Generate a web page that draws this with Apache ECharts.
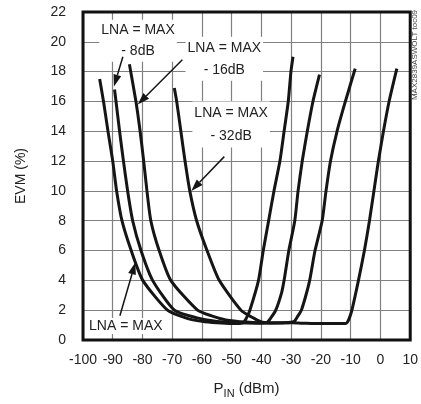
<!DOCTYPE html>
<html><head><meta charset="utf-8">
<script src="https://cdn.jsdelivr.net/npm/echarts@6/dist/echarts.min.js"></script>
<style>html,body{margin:0;padding:0;background:#fff}#c{width:421px;height:404px}</style>
</head><body><div id="c"></div>
<script>
// tick labels
const xTicks = [-100,-90,-80,-70,-60,-50,-40,-30,-20,-10,0,10];
const yTicks = [0,2,4,6,8,10,12,14,16,18,20,22];

// EVM (%) vs PIN (dBm) for each LNA gain setting
const lnaMax = [[-94.4,17.5],[-93.1,16],[-91.6,14],[-90,12],[-88.7,10],[-86.9,8],[-83.8,6],[-79.9,4],[-71.6,2],[-65,1.45],[-60,1.25],[-55,1.15],[-50,1.1],[-46.2,1.15],[-45,1.5],[-43.9,2],[-41,4],[-39.4,6],[-37.6,8],[-35.8,10],[-33.8,12],[-32.4,14],[-31,16],[-30.1,18],[-29.4,19]];
const lnaMax8 = [[-89.4,16.8],[-88.9,16],[-87.7,14],[-86.4,12],[-85,10],[-83.3,8],[-80.5,6],[-76.6,4],[-69.3,2],[-62,1.5],[-55,1.25],[-48,1.15],[-42,1.12],[-38.2,1.18],[-36.8,1.5],[-35.2,2],[-33.2,3.2],[-32.4,4],[-30.8,6],[-28.8,8],[-27.7,10],[-26.3,12],[-24.6,14],[-22.7,16],[-20.5,17.8]];
const lnaMax16 = [[-84.4,18.5],[-82.2,16],[-80.8,14],[-79.6,12],[-78.5,10],[-77.2,8],[-74.4,6],[-70.5,4],[-61.5,2],[-56.5,1.6],[-52,1.35],[-45,1.2],[-38,1.13],[-32,1.15],[-29,1.25],[-27.8,1.6],[-26.6,2],[-25.2,2.9],[-23.8,4],[-22,6],[-19.6,8],[-18.3,10],[-16.8,12],[-14.6,14],[-11.8,16],[-8.5,18.2]];
const lnaMax32 = [[-69.3,16.9],[-68.5,16],[-67.1,14],[-65.7,12],[-64.1,10],[-61.8,8],[-58.3,6],[-54.2,4],[-46.9,2],[-42.5,1.45],[-39.7,1.2],[-35,1.15],[-30,1.15],[-25,1.12],[-20,1.1],[-15,1.1],[-11.8,1.1],[-11.1,1.2],[-10.4,1.5],[-9.6,2],[-7.4,4],[-5.4,6],[-3.7,8],[-2.2,10],[-0.7,12],[1.0,14],[2.9,16],[5.5,18.2]];

// annotations (data coordinates)
const labels = [
  {text:'LNA = MAX\n- 8dB', at:[-81.5,20.07], lh:21},
  {text:'LNA = MAX\n- 16dB', at:[-52.5,18.86], lh:22},
  {text:'LNA = MAX\n- 32dB', at:[-50.2,14.45], lh:23},
  {text:'LNA = MAX', at:[-85.6,0.94], lh:16}
];
const arrows = [
  {from:[-86.6,19.0], to:[-89.6,17.0]},
  {from:[-66.6,18.8], to:[-81.6,15.8]},
  {from:[-52.5,12.3], to:[-63.6,10.0]},
  {from:[-87.6,1.63], to:[-82.4,5.2]}
];

const FONT = '"Liberation Sans", Arial, sans-serif';
const chart = echarts.init(document.getElementById('c'), null, {renderer:'canvas'});
const mk = (name, data) => ({
  name, type:'line', data, showSymbol:false, smooth:0.2,
  lineStyle:{color:'#151515', width:3}, z:3, animation:false
});
chart.setOption({
  animation:false,
  grid:{left:83, right:10, top:12, bottom:63, show:true, borderColor:'#111', borderWidth:3, z:5},
  xAxis:{type:'value', min:xTicks[0], max:xTicks[xTicks.length-1], interval:xTicks[1]-xTicks[0],
    axisLine:{show:false}, axisTick:{show:false},
    splitLine:{show:true, lineStyle:{color:'#808080', width:1.2}},
    axisLabel:{color:'#222', fontFamily:FONT, fontSize:14, margin:13},
    name:'{a|P}{b|IN}{a| (dBm)}', nameLocation:'middle', nameGap:41,
    nameTextStyle:{rich:{a:{fontFamily:FONT,fontSize:15,color:'#222',verticalAlign:'bottom',padding:[0,0,3,0]},
                         b:{fontFamily:FONT,fontSize:11,color:'#222',verticalAlign:'bottom'}}}
  },
  yAxis:{type:'value', min:yTicks[0], max:yTicks[yTicks.length-1], interval:yTicks[1]-yTicks[0],
    axisLine:{show:false}, axisTick:{show:false},
    splitLine:{show:true, lineStyle:{color:'#808080', width:1.2}},
    axisLabel:{color:'#222', fontFamily:FONT, fontSize:14, margin:17},
    name:'EVM (%)', nameLocation:'middle', nameGap:55,
    nameTextStyle:{fontFamily:FONT, fontSize:14, color:'#222'}
  },
  series:[mk('LNA = MAX',lnaMax), mk('LNA = MAX - 8dB',lnaMax8), mk('LNA = MAX - 16dB',lnaMax16), mk('LNA = MAX - 32dB',lnaMax32)]
});

const gfx = [];
labels.forEach(l => {
  const p = chart.convertToPixel({gridIndex:0}, l.at);
  gfx.push({type:'text', x:p[0], y:p[1], z:50,
    style:{text:l.text, font:'14px '+FONT, fill:'#222', align:'center', verticalAlign:'middle',
      lineHeight:l.lh, backgroundColor:'#fff', padding:[0,2]}});
});
arrows.forEach(a => {
  const p0 = chart.convertToPixel({gridIndex:0}, a.from);
  const p1 = chart.convertToPixel({gridIndex:0}, a.to);
  const dx = p1[0]-p0[0], dy = p1[1]-p0[1], L = Math.hypot(dx,dy);
  const ux = dx/L, uy = dy/L, hl = 12, hw = 4;
  const bx = p1[0]-ux*hl, by = p1[1]-uy*hl;
  gfx.push({type:'line', z:51, shape:{x1:p0[0],y1:p0[1],x2:bx,y2:by}, style:{stroke:'#151515', lineWidth:1.5}});
  gfx.push({type:'polygon', z:51, shape:{points:[[p1[0],p1[1]],[bx-uy*hw,by+ux*hw],[bx+uy*hw,by-ux*hw]]}, style:{fill:'#151515'}});
});
gfx.push({type:'text', x:415, y:55, rotation:Math.PI/2, z:50,
  style:{text:'MAX2839ASWOLT toc09', font:'8px '+FONT, fill:'#444', align:'center', verticalAlign:'middle'}});
chart.setOption({graphic:gfx});
</script></body></html>
